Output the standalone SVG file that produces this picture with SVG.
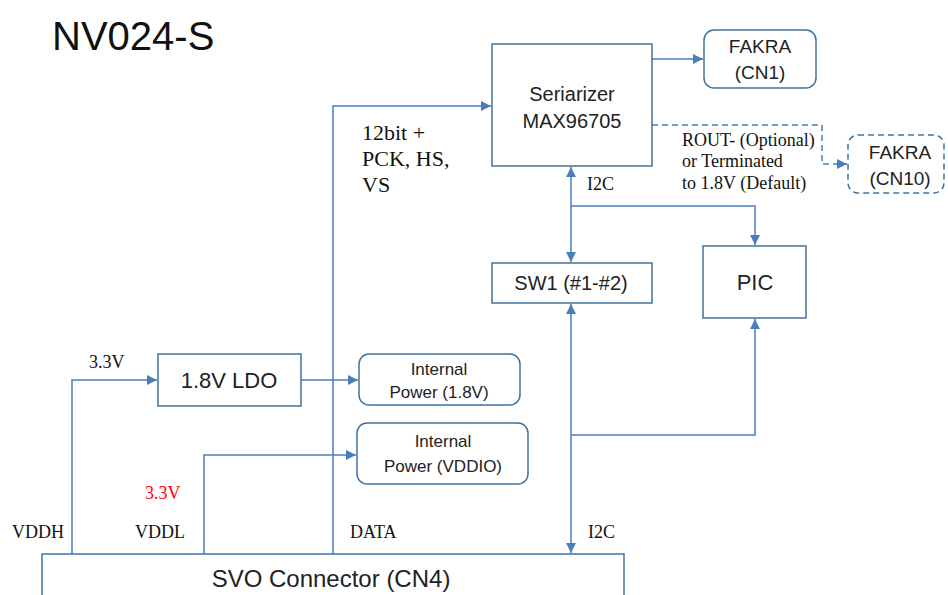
<svg xmlns="http://www.w3.org/2000/svg" width="948" height="595" viewBox="0 0 948 595">
<style>
.box{fill:#fff;stroke:#41719c;stroke-width:1.5}
.dbox{fill:#fff;stroke:#41719c;stroke-width:1.5;stroke-dasharray:6 4}
.ln{fill:none;stroke:#4a7ebb;stroke-width:1.5}
.dln{fill:none;stroke:#4a7ebb;stroke-width:1.5;stroke-dasharray:6 4}
.s{font-family:"Liberation Sans",Arial,sans-serif;fill:#222;text-anchor:middle}
.r{font-family:"Liberation Serif","Times New Roman",serif;fill:#111}
.big{font-size:22px}
.sm{font-size:18px}
</style>
<defs>
<marker id="ah" viewBox="0 0 10 10" refX="10" refY="5" markerWidth="10" markerHeight="10" markerUnits="userSpaceOnUse" orient="auto-start-reverse">
<path d="M0,0 L10,5 L0,10 z" fill="#4a7ebb"/>
</marker>
</defs>
<text x="52" y="50" font-family="Liberation Sans,Arial,sans-serif" font-size="40" fill="#111">NV024-S</text>

<g id="connectors">
<path class="ln" d="M652,59 H703" marker-end="url(#ah)"/>
<path class="dln" d="M652,125 H822 V164 H847" marker-end="url(#ah)"/>
<path class="ln" d="M333,554 V106 H491" marker-end="url(#ah)"/>
<path class="ln" d="M571,167 V262" marker-start="url(#ah)" marker-end="url(#ah)"/>
<path class="ln" d="M571,206 H755 V245" marker-end="url(#ah)"/>
<path class="ln" d="M571,304 V553" marker-start="url(#ah)" marker-end="url(#ah)"/>
<path class="ln" d="M571,435 H755 V319" marker-end="url(#ah)"/>
<path class="ln" d="M72,554 V380 H157" marker-end="url(#ah)"/>
<path class="ln" d="M301,380 H358" marker-end="url(#ah)"/>
<path class="ln" d="M204,554 V455 H356" marker-end="url(#ah)"/>
</g>

<g id="serializer">
<rect class="box" x="492" y="44" width="160" height="122"/>
<text class="s" x="572" y="101" font-size="20">Seriarizer</text>
<text class="s" x="572" y="128" font-size="20">MAX96705</text>
</g>
<g id="fakra-cn1">
<rect class="box" x="704" y="30" width="112" height="58" rx="10"/>
<text class="s" x="760" y="53" font-size="19">FAKRA</text>
<text class="s" x="760" y="79" font-size="19">(CN1)</text>
</g>
<g id="fakra-cn10">
<rect class="dbox" x="848" y="135" width="96" height="58" rx="10"/>
<text class="s" x="900" y="159" font-size="19">FAKRA</text>
<text class="s" x="900" y="185" font-size="19">(CN10)</text>
</g>
<g id="sw1">
<rect class="box" x="492" y="263" width="160" height="40"/>
<text class="s" x="571" y="290" font-size="20">SW1 (#1-#2)</text>
</g>
<g id="pic">
<rect class="box" x="703" y="246" width="103" height="72"/>
<text class="s" x="755" y="290" font-size="22">PIC</text>
</g>
<g id="ldo">
<rect class="box" x="158" y="354" width="143" height="52"/>
<text class="s" x="229" y="388" font-size="22">1.8V LDO</text>
</g>
<g id="internal-power-18">
<rect class="box" x="359" y="354" width="161" height="51" rx="10"/>
<text class="s" x="439" y="375" font-size="17">Internal</text>
<text class="s" x="439" y="398" font-size="17">Power (1.8V)</text>
</g>
<g id="internal-power-vddio">
<rect class="box" x="357" y="423" width="171" height="61" rx="10"/>
<text class="s" x="443" y="447" font-size="17">Internal</text>
<text class="s" x="443" y="472" font-size="17">Power (VDDIO)</text>
</g>
<g id="svo-connector">
<rect class="box" x="42" y="554" width="582" height="60"/>
<text class="s" x="331" y="587" font-size="24">SVO Connector (CN4)</text>
</g>

<g id="labels">
<text class="r big" x="362" y="140">12bit +</text>
<text class="r big" x="362" y="166">PCK, HS,</text>
<text class="r big" x="362" y="192">VS</text>
<text class="r sm" x="682" y="146">ROUT- (Optional)</text>
<text class="r sm" x="682" y="167">or Terminated</text>
<text class="r sm" x="682" y="189">to 1.8V (Default)</text>
<text class="r sm" x="587" y="190">I2C</text>
<text class="r sm" x="89" y="368">3.3V</text>
<text class="r sm" x="145" y="499" style="fill:#ff0000">3.3V</text>
<text class="r sm" x="12" y="538">VDDH</text>
<text class="r sm" x="135" y="538">VDDL</text>
<text class="r sm" x="350" y="538">DATA</text>
<text class="r sm" x="588" y="538">I2C</text>
</g>
</svg>
